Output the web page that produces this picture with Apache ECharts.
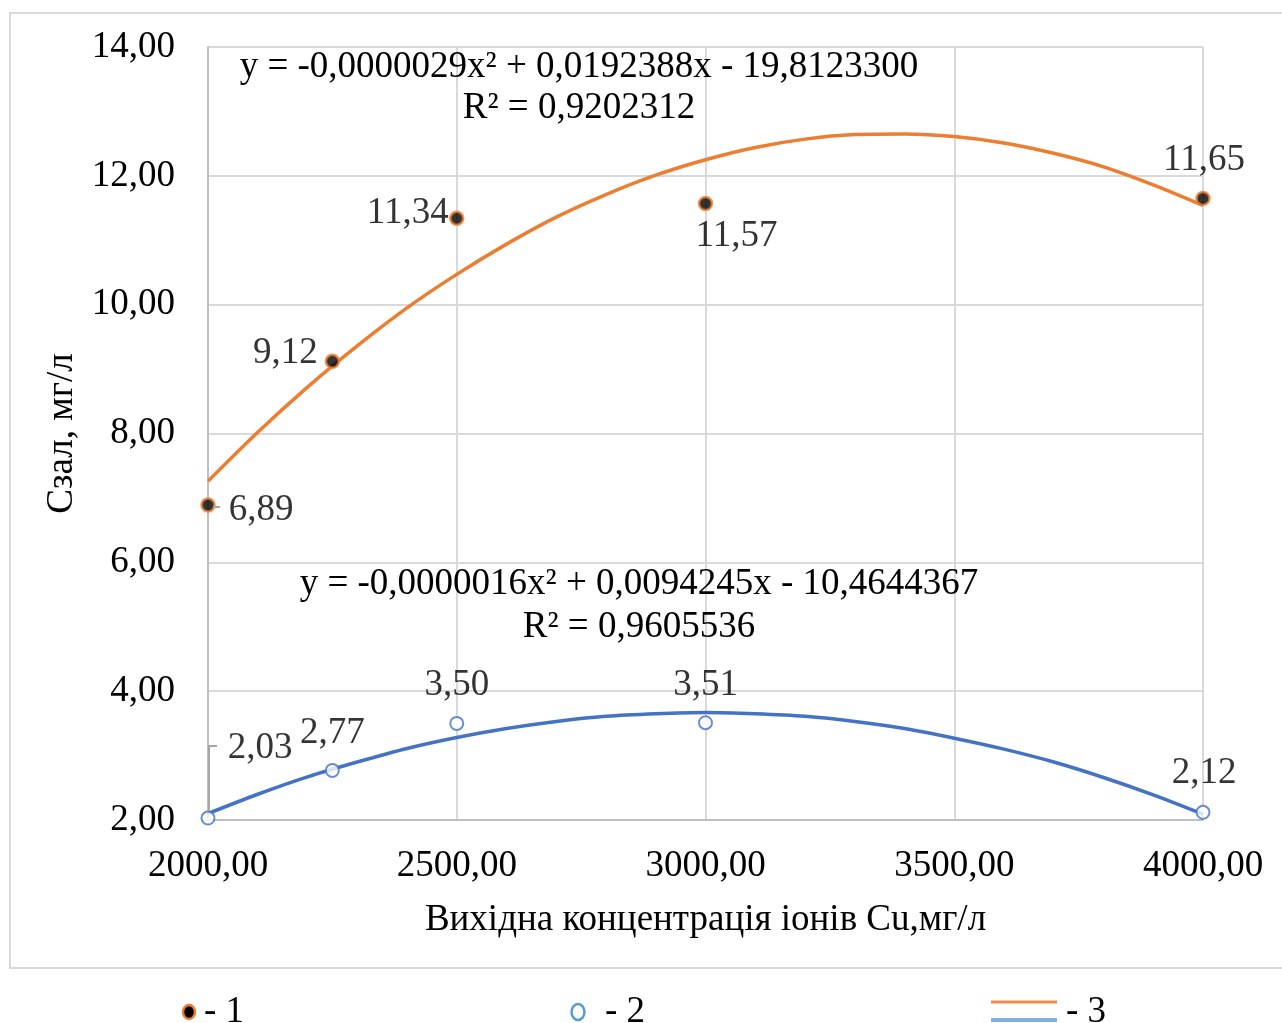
<!DOCTYPE html>
<html>
<head>
<meta charset="utf-8">
<script src="https://cdn.jsdelivr.net/npm/echarts@6/dist/echarts.min.js"></script>
<style>
html,body{margin:0;padding:0;background:#fff;}
#c{width:1282px;height:1023px;}
</style>
</head>
<body>
<div id="c"></div>
<script>
// ---- data ----
var xValues = [2000, 2250, 2500, 3000, 4000];
var series1 = [6.89, 9.12, 11.34, 11.57, 11.65];
var series2 = [2.03, 2.77, 3.50, 3.51, 2.12];
var trendX = [2000, 2100, 2200, 2300, 2400, 2500, 2600, 2700, 2800, 2900, 3000, 3100, 3200, 3300, 3400, 3500, 3600, 3700, 3800, 3900, 4000];
var trend1 = [7.26, 8.02, 8.72, 9.36, 9.95, 10.47, 10.94, 11.36, 11.71, 12.01, 12.25, 12.44, 12.57, 12.64, 12.65, 12.61, 12.51, 12.35, 12.14, 11.86, 11.54];
var trend2 = [2.10, 2.40, 2.67, 2.90, 3.11, 3.28, 3.42, 3.53, 3.61, 3.65, 3.67, 3.65, 3.61, 3.53, 3.42, 3.27, 3.10, 2.90, 2.66, 2.39, 2.09];
var eq1 = ['y = -0,0000029x² + 0,0192388x - 19,8123300', 'R² = 0,9202312'];
var eq2 = ['y = -0,0000016x² + 0,0094245x - 10,4644367', 'R² = 0,9605536'];
var xTitle = 'Вихідна концентрація іонів Cu,мг/л';
var yTitle = 'Сзал, мг/л';
var legendNames = ['- 1', '- 2', '- 3'];

// label offsets (style)
var off1 = [[53, 5], [-47, -8], [-49, -5], [31, 33], [1, -38]];
var off2 = [[52, -70], [0, -37], [0, -38], [0, -37], [1, -39]];

var FONT = '"Liberation Serif", "Times New Roman", serif';
var FS = 37;
var ORANGE = '#ED7D31', BLUE = '#4472C4';

function fmt(v) { return v.toFixed(2).replace('.', ','); }
function pairs(xs, ys) { return xs.map(function (x, i) { return [x, ys[i]]; }); }
function labeled(xs, ys, offs) {
  return xs.map(function (x, i) {
    return {
      value: [x, ys[i]],
      label: {
        show: true, position: 'inside', offset: offs[i], formatter: fmt(ys[i]),
        color: '#000', fontFamily: FONT, fontSize: FS, textBorderWidth: 0, textBorderColor: 'transparent'
      }
    };
  });
}

var chart = echarts.init(document.getElementById('c'), null, { renderer: 'canvas' });
var labelStyle = { color: '#000', fontFamily: FONT, fontSize: FS, textBorderWidth: 0, textShadowBlur: 0 };

chart.setOption({
  backgroundColor: '#fff',
  animation: false,
  grid: { left: 208, right: 79, top: 47, bottom: 203, containLabel: false },
  xAxis: {
    type: 'value', min: 2000, max: 4000, interval: 500,
    axisLine: { show: true, lineStyle: { color: '#BFBFBF', width: 2 } },
    axisTick: { show: false },
    splitLine: { show: true, lineStyle: { color: '#D9D9D9', width: 2 } },
    axisLabel: { formatter: function (v) { return fmt(v); }, color: '#000', fontFamily: FONT, fontSize: FS, margin: 28 },
    name: xTitle, nameLocation: 'middle', nameGap: 82,
    nameTextStyle: { color: '#000', fontFamily: FONT, fontSize: FS }
  },
  yAxis: {
    type: 'value', min: 2, max: 14, interval: 2,
    axisLine: { show: true, lineStyle: { color: '#BFBFBF', width: 2 } },
    axisTick: { show: false },
    splitLine: { show: true, lineStyle: { color: '#D9D9D9', width: 2 } },
    axisLabel: { formatter: function (v) { return fmt(v); }, color: '#000', fontFamily: FONT, fontSize: FS, margin: 33 },
    name: yTitle, nameLocation: 'middle', nameGap: 124, nameRotate: 90,
    nameTextStyle: { color: '#000', fontFamily: FONT, fontSize: FS }
  },
  series: [
    {
      type: 'line', data: pairs(trendX, trend1), smooth: 0.3, showSymbol: false,
      lineStyle: { color: ORANGE, width: 3.5 }, z: 2, silent: true
    },
    {
      type: 'line', data: pairs(trendX, trend2), smooth: 0.3, showSymbol: false,
      lineStyle: { color: BLUE, width: 3.5 }, z: 2, silent: true
    },
    {
      type: 'scatter', data: labeled(xValues, series1, off1), symbol: 'circle', symbolSize: 13,
      itemStyle: { color: '#000', borderColor: ORANGE, borderWidth: 2.5 },
      label: labelStyle, z: 5
    },
    {
      type: 'scatter', data: labeled(xValues, series2, off2), symbol: 'circle', symbolSize: 13,
      itemStyle: { color: '#fff', borderColor: BLUE, borderWidth: 2 },
      label: labelStyle, z: 5
    }
  ]
});

// leader lines + annotations
var p689 = chart.convertToPixel({ gridIndex: 0 }, [xValues[0], series1[0]]);
var p203 = chart.convertToPixel({ gridIndex: 0 }, [xValues[0], series2[0]]);
function txt(s, x, y, align) {
  return { type: 'text', x: x, y: y, style: { text: s, fill: '#000', font: FS + 'px ' + FONT, align: align || 'center', verticalAlign: 'middle' }, z: 10 };
}
chart.setOption({
  graphic: [
    { type: 'rect', shape: { x: 10, y: 13, width: 1290, height: 955 }, style: { fill: null, stroke: '#D9D9D9', lineWidth: 2 }, z: -1, silent: true },
    { type: 'polyline', shape: { points: [[p689[0] + 5, p689[1] + 2], [p689[0] + 12, p689[1] + 2]] }, style: { stroke: '#A6A6A6', lineWidth: 2, fill: null }, z: 100 },
    { type: 'polyline', shape: { points: [[p203[0] + 1, p203[1] - 7], [p203[0] + 1, p203[1] - 72], [p203[0] + 9, p203[1] - 72]] }, style: { stroke: '#A6A6A6', lineWidth: 2, fill: null }, z: 100 },
    txt(eq1[0], 579, 67), txt(eq1[1], 579, 108),
    txt(eq2[0], 639, 584), txt(eq2[1], 639, 627),
    // legend
    { type: 'ellipse', shape: { cx: 189, cy: 1012, rx: 6, ry: 7 }, style: { fill: '#000', stroke: ORANGE, lineWidth: 2.5 }, z: 10 },
    txt(legendNames[0], 204, 1012, 'left'),
    { type: 'ellipse', shape: { cx: 578, cy: 1012, rx: 6.5, ry: 8 }, style: { fill: '#fff', stroke: '#5B9BD5', lineWidth: 2.5 }, z: 10 },
    txt(legendNames[1], 605, 1012, 'left'),
    { type: 'line', shape: { x1: 991, y1: 1002, x2: 1057, y2: 1002 }, style: { stroke: '#F08A4B', lineWidth: 3 }, z: 10 },
    { type: 'line', shape: { x1: 991, y1: 1020, x2: 1057, y2: 1020 }, style: { stroke: '#7FAEE0', lineWidth: 4 }, z: 10 },
    txt(legendNames[2], 1066, 1012, 'left')
  ]
});
</script>
</body>
</html>
